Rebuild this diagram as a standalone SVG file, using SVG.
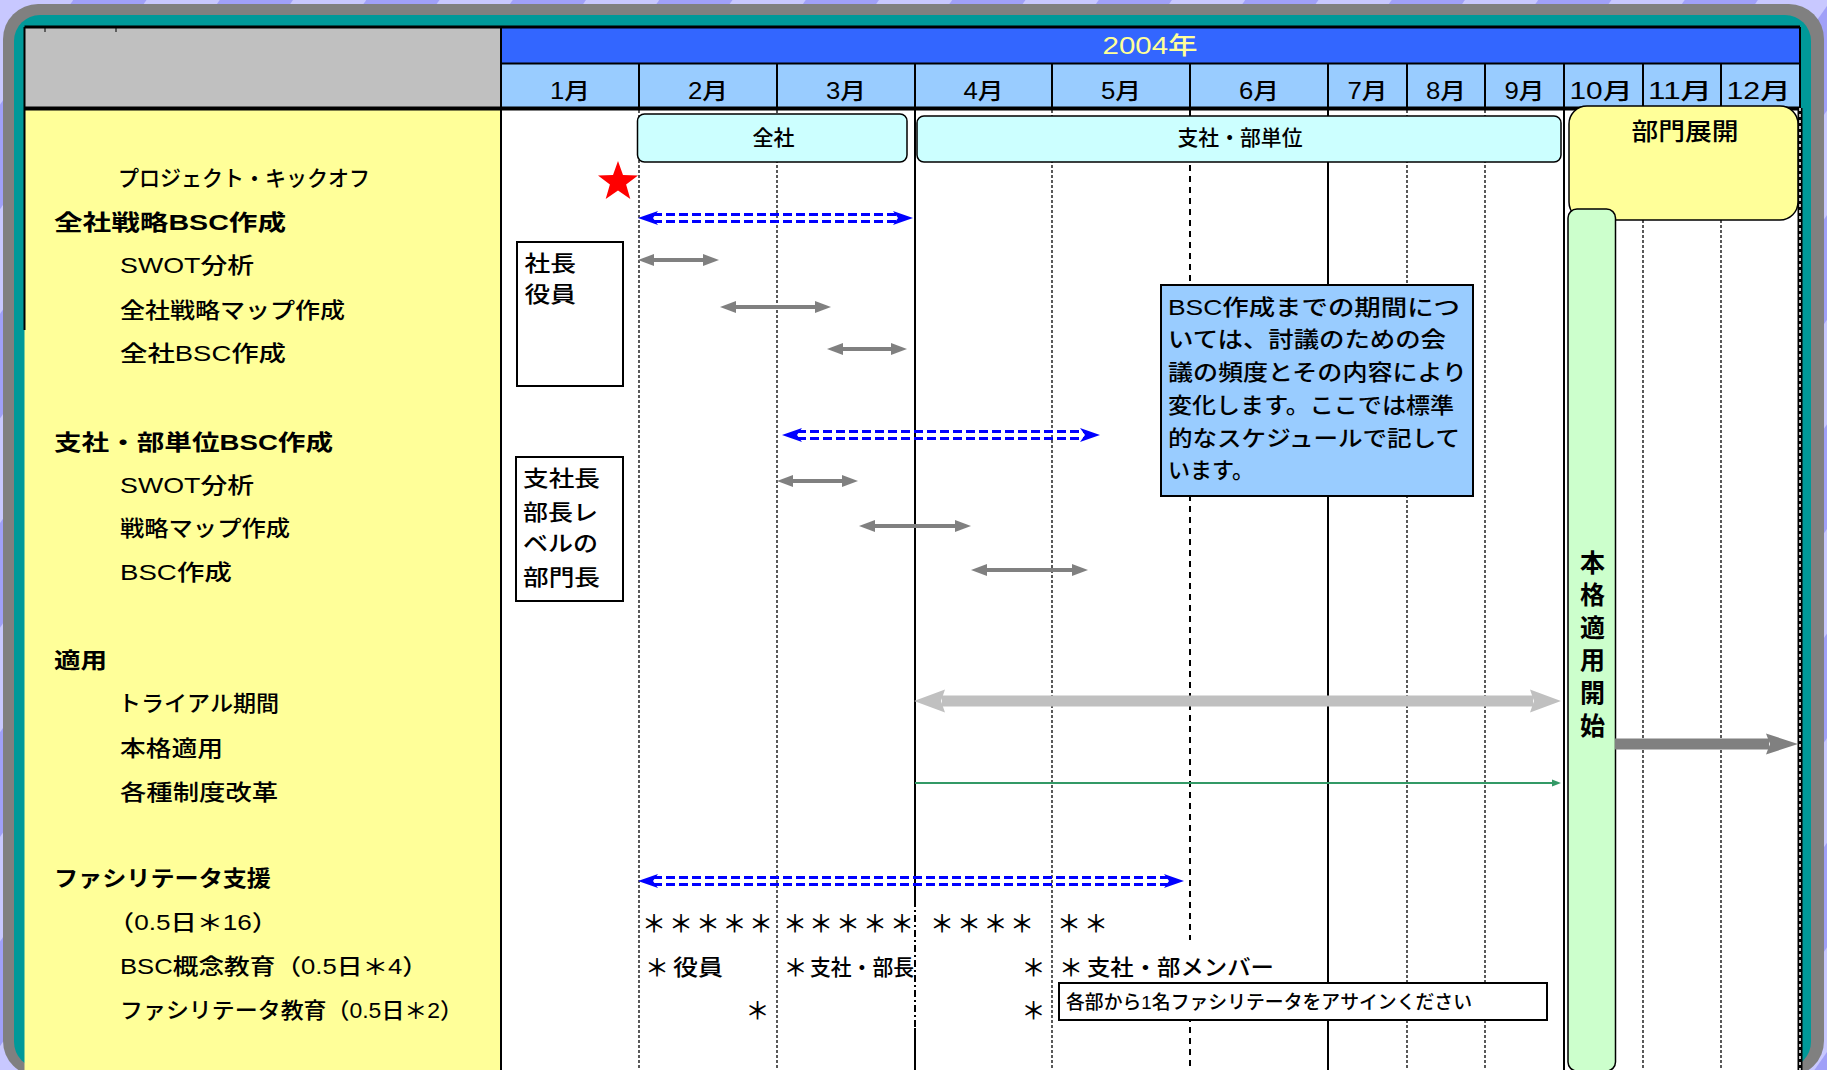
<svg xmlns="http://www.w3.org/2000/svg" width="1827" height="1070" viewBox="0 0 1827 1070">
<defs>
<style>
.t{font-family:"Liberation Sans","Noto Sans CJK JP",sans-serif;font-size:22px;font-weight:500;fill:#000}
.b{font-weight:bold}
.mon{font-size:23px;text-anchor:middle}
.ast{font-family:"Noto Sans CJK JP",sans-serif;font-size:24px;font-weight:500;text-anchor:middle;fill:#000}
.dl{stroke:#000;stroke-width:1.3;stroke-dasharray:3 2;fill:none}
.dl2{stroke:#000;stroke-width:2;stroke-dasharray:6 5;fill:none}
.sl{stroke:#000;stroke-width:2;fill:none}
.bar{fill:#ccffff;stroke:#000;stroke-width:1.5}
.box{fill:#fff;stroke:#000;stroke-width:2}
.bdash{stroke:#0000ff;stroke-width:3;stroke-dasharray:9 4;fill:none}
.mk{stroke:none;fill:none}
.ga{stroke:#808080;stroke-width:4;fill:none}
</style>
<pattern id="bgp" patternUnits="userSpaceOnUse" width="120" height="120" patternTransform="rotate(35)">
<rect width="120" height="120" fill="#a0a0f8"/><rect width="60" height="120" fill="#c8c8ff"/>
</pattern>
<marker id="mBlue" markerUnits="userSpaceOnUse" orient="auto-start-reverse" refX="0" refY="0" markerWidth="24" markerHeight="16" overflow="visible"><path d="M0,-7 L20,0 L0,7 L5,0 Z" fill="#0000ff"/></marker>
<marker id="mGray" markerUnits="userSpaceOnUse" orient="auto-start-reverse" refX="0" refY="0" markerWidth="16" markerHeight="14" overflow="visible"><path d="M-1,-6 L15,0 L-1,6 Z" fill="#808080"/></marker>
<marker id="mBig" markerUnits="userSpaceOnUse" orient="auto-start-reverse" refX="0" refY="0" markerWidth="32" markerHeight="24" overflow="visible"><path d="M-3,-11.5 L28,0 L-3,11.5 L1,0 Z" fill="#c0c0c0"/></marker>
<marker id="mDark" markerUnits="userSpaceOnUse" orient="auto" refX="0" refY="0" markerWidth="32" markerHeight="24" overflow="visible"><path d="M-3,-10.5 L29,0 L-3,10.5 L1,0 Z" fill="#808080"/></marker>
<marker id="mGreen" markerUnits="userSpaceOnUse" orient="auto" refX="0" refY="0" markerWidth="10" markerHeight="8" overflow="visible"><path d="M0,-3.5 L9,0 L0,3.5 Z" fill="#339966"/></marker>
</defs>

<g id="background">
<rect width="1827" height="1070" fill="url(#bgp)"/>
<rect x="3" y="4" width="1821" height="1072" rx="35" fill="#808080"/>
<rect x="14" y="15" width="1797" height="1053" rx="26" fill="#009999"/>
</g>

<g id="table">
<rect x="24.5" y="27" width="476.5" height="81.5" fill="#c0c0c0"/>
<rect x="501" y="27" width="1299" height="36.5" fill="#3366ff"/>
<rect x="501" y="63.5" width="1299" height="45" fill="#99ccff"/>
<rect x="24.5" y="110" width="476.5" height="960" fill="#ffff99"/>
<rect x="501" y="110" width="1299" height="960" fill="#fff"/>
<line x1="24.5" y1="27" x2="1800" y2="27" stroke="#000" stroke-width="3"/>
<line x1="501" y1="63.5" x2="1800" y2="63.5" stroke="#000" stroke-width="2"/>
<line x1="24.5" y1="27" x2="24.5" y2="330" stroke="#000" stroke-width="2"/>
<line x1="45" y1="27" x2="45" y2="32" stroke="#000" stroke-width="1"/>
<line x1="116" y1="27" x2="116" y2="32" stroke="#000" stroke-width="1"/>
<g class="sl">
<path d="M639,63.5V108.5 M777,63.5V108.5 M915,63.5V108.5 M1052,63.5V108.5 M1190,63.5V108.5 M1328,63.5V108.5 M1407,63.5V108.5 M1485,63.5V108.5 M1564,63.5V108.5 M1643,63.5V108.5 M1721,63.5V108.5 M1800,27V108.5"/>
<path d="M501,27V1070"/>
</g>
<text class="t" x="1150" y="54" text-anchor="middle" style="fill:#ffff99;font-size:24px" textLength="95" lengthAdjust="spacingAndGlyphs">2004年</text>
<g class="t mon">
<text x="570" y="99" textLength="40" lengthAdjust="spacingAndGlyphs">1月</text>
<text x="708" y="99" textLength="40" lengthAdjust="spacingAndGlyphs">2月</text>
<text x="846" y="99" textLength="40" lengthAdjust="spacingAndGlyphs">3月</text>
<text x="983.5" y="99" textLength="40" lengthAdjust="spacingAndGlyphs">4月</text>
<text x="1121" y="99" textLength="40" lengthAdjust="spacingAndGlyphs">5月</text>
<text x="1259" y="99" textLength="40" lengthAdjust="spacingAndGlyphs">6月</text>
<text x="1367.5" y="99" textLength="40" lengthAdjust="spacingAndGlyphs">7月</text>
<text x="1446" y="99" textLength="40" lengthAdjust="spacingAndGlyphs">8月</text>
<text x="1524.5" y="99" textLength="40" lengthAdjust="spacingAndGlyphs">9月</text>
<text x="1601" y="99" textLength="63" lengthAdjust="spacingAndGlyphs">10月</text>
<text x="1680" y="99" textLength="64" lengthAdjust="spacingAndGlyphs">11月</text>
<text x="1758.5" y="99" textLength="64" lengthAdjust="spacingAndGlyphs">12月</text>
</g>
<line x1="24.5" y1="108.5" x2="1800" y2="108.5" stroke="#000" stroke-width="4"/>
</g>

<g id="gridlines">
<path class="dl" d="M639,110V1070 M777,110V1070 M1052,110V1070 M1407,110V1070 M1485,110V1070 M1643,110V1070 M1721,110V1070"/>
<path class="dl2" d="M1190,110V940 M1190,983V1070"/>
<path class="sl" d="M915,110V900 M915,1028V1070 M1328,110V1070 M1564,110V1070"/>
<path d="M915,900V1028" stroke="#000" stroke-width="2" stroke-dasharray="7 3 2 3" fill="none"/>
<line x1="1800" y1="108" x2="1800" y2="1070" stroke="#000" stroke-width="5"/>
<line x1="1800" y1="108" x2="1800" y2="1070" stroke="#fff" stroke-width="1.5" stroke-dasharray="3 3"/>
</g>

<g id="labels">
<text class="t" x="118" y="186" textLength="252" lengthAdjust="spacingAndGlyphs">プロジェクト・キックオフ</text>
<text class="t b" x="54" y="230" textLength="232" lengthAdjust="spacingAndGlyphs">全社戦略BSC作成</text>
<text class="t" x="120" y="273" textLength="134" lengthAdjust="spacingAndGlyphs">SWOT分析</text>
<text class="t" x="120" y="318" textLength="225" lengthAdjust="spacingAndGlyphs">全社戦略マップ作成</text>
<text class="t" x="120" y="361" textLength="166" lengthAdjust="spacingAndGlyphs">全社BSC作成</text>
<text class="t b" x="54" y="450" textLength="279" lengthAdjust="spacingAndGlyphs">支社・部単位BSC作成</text>
<text class="t" x="120" y="493" textLength="134" lengthAdjust="spacingAndGlyphs">SWOT分析</text>
<text class="t" x="120" y="536" textLength="170" lengthAdjust="spacingAndGlyphs">戦略マップ作成</text>
<text class="t" x="120" y="580" textLength="112" lengthAdjust="spacingAndGlyphs">BSC作成</text>
<text class="t b" x="54" y="668" textLength="53" lengthAdjust="spacingAndGlyphs">適用</text>
<text class="t" x="118" y="711" textLength="161" lengthAdjust="spacingAndGlyphs">トライアル期間</text>
<text class="t" x="120" y="756" textLength="103" lengthAdjust="spacingAndGlyphs">本格適用</text>
<text class="t" x="120" y="800" textLength="158" lengthAdjust="spacingAndGlyphs">各種制度改革</text>
<text class="t b" x="54" y="886" textLength="217" lengthAdjust="spacingAndGlyphs">ファシリテータ支援</text>
<text class="t" x="108" y="930" textLength="170" lengthAdjust="spacingAndGlyphs">（0.5日＊16）</text>
<text class="t" x="120" y="974" textLength="308" lengthAdjust="spacingAndGlyphs">BSC概念教育（0.5日＊4）</text>
<text class="t" x="120" y="1018" textLength="343" lengthAdjust="spacingAndGlyphs">ファシリテータ教育（0.5日＊2）</text>
</g>

<g id="node-zensha">
<rect class="bar" x="637.5" y="114" width="269.5" height="48" rx="7"/>
<text class="t" x="773.5" y="145" text-anchor="middle" style="font-size:21px">全社</text>
</g>
<g id="node-shisha">
<rect class="bar" x="917" y="116" width="644" height="46" rx="7"/>
<text class="t" x="1240" y="145" text-anchor="middle" style="font-size:21px" textLength="125" lengthAdjust="spacingAndGlyphs">支社・部単位</text>
</g>
<g id="node-bumon">
<rect x="1569" y="106" width="229" height="114" rx="18" fill="#ffff99" stroke="#000" stroke-width="1.5"/>
<text class="t" x="1685" y="140" text-anchor="middle" style="font-size:24px" textLength="107" lengthAdjust="spacingAndGlyphs">部門展開</text>
</g>
<g id="node-honkaku">
<rect x="1568" y="209" width="47.5" height="862" rx="9" fill="#ccffcc" stroke="#000" stroke-width="1.5"/>
<text class="t b" style="font-size:25px" text-anchor="middle" x="1592.6" y="572">本</text>
<text class="t b" style="font-size:25px" text-anchor="middle" x="1592.6" y="604">格</text>
<text class="t b" style="font-size:25px" text-anchor="middle" x="1592.6" y="637">適</text>
<text class="t b" style="font-size:25px" text-anchor="middle" x="1592.6" y="669">用</text>
<text class="t b" style="font-size:25px" text-anchor="middle" x="1592.6" y="702">開</text>
<text class="t b" style="font-size:25px" text-anchor="middle" x="1592.6" y="735">始</text>
</g>
<g id="node-kickoff">
<polygon points="618,161 623,175.1 638,175.5 626.1,184.6 630.3,199 618,190.5 605.7,199 609.9,184.6 598,175.5 613,175.1" fill="#ff0000"/>
</g>
<g id="node-shachou">
<rect class="box" x="517" y="242" width="106" height="144"/>
<text class="t" x="524.5" y="271" textLength="51.5" lengthAdjust="spacingAndGlyphs">社長</text>
<text class="t" x="524.5" y="302" textLength="51.5" lengthAdjust="spacingAndGlyphs">役員</text>
</g>
<g id="node-shishachou">
<rect class="box" x="516" y="457" width="107" height="144"/>
<text class="t" x="523" y="486" textLength="77" lengthAdjust="spacingAndGlyphs">支社長</text>
<text class="t" x="523" y="520" textLength="75" lengthAdjust="spacingAndGlyphs">部長レ</text>
<text class="t" x="523" y="551" textLength="75" lengthAdjust="spacingAndGlyphs">ベルの</text>
<text class="t" x="523" y="585" textLength="77" lengthAdjust="spacingAndGlyphs">部門長</text>
</g>
<g id="node-note">
<rect x="1161" y="285" width="312" height="211" fill="#99ccff" stroke="#000" stroke-width="2"/>
<text class="t" x="1168" y="315" textLength="292" lengthAdjust="spacingAndGlyphs">BSC作成までの期間につ</text>
<text class="t" x="1168" y="347" textLength="278" lengthAdjust="spacingAndGlyphs">いては、討議のための会</text>
<text class="t" x="1168" y="380" textLength="299" lengthAdjust="spacingAndGlyphs">議の頻度とその内容により</text>
<text class="t" x="1168" y="413" textLength="286" lengthAdjust="spacingAndGlyphs">変化します。ここでは標準</text>
<text class="t" x="1168" y="446" textLength="292" lengthAdjust="spacingAndGlyphs">的なスケジュールで記して</text>
<text class="t" x="1168" y="478" textLength="86" lengthAdjust="spacingAndGlyphs">います。</text>
</g>
<g id="node-assign">
<rect class="box" x="1059" y="983" width="488" height="37"/>
<text class="t" x="1066" y="1009" style="font-size:19px" textLength="406" lengthAdjust="spacingAndGlyphs">各部から1名ファシリテータをアサインください</text>
</g>
<g id="node-facilitation">
<text class="ast" x="654 681 708 734.5 761" y="932">＊＊＊＊＊</text>
<text class="ast" x="795 821 848 875 902" y="932">＊＊＊＊＊</text>
<text class="ast" x="942 969 995.5 1022" y="932">＊＊＊＊</text>
<text class="ast" x="1069 1096" y="932">＊＊</text>
<text class="ast" x="657" y="976">＊</text>
<text class="t" x="673" y="975" textLength="50" lengthAdjust="spacingAndGlyphs">役員</text>
<text class="ast" x="795.5" y="976">＊</text>
<text class="t" x="810" y="975" textLength="104" lengthAdjust="spacingAndGlyphs">支社・部長</text>
<text class="ast" x="1033.5" y="976">＊</text>
<text class="ast" x="1071" y="976">＊</text>
<text class="t" x="1087" y="975" textLength="187" lengthAdjust="spacingAndGlyphs">支社・部メンバー</text>
<text class="ast" x="757.5" y="1019">＊</text>
<text class="ast" x="1033.5" y="1019">＊</text>
</g>

<g id="connectors">
<path class="bdash" d="M653,214.5H898 M653,221.5H898"/>
<path class="mk" d="M658,218H893" marker-start="url(#mBlue)" marker-end="url(#mBlue)"/>
<path class="bdash" d="M797,431.5H1085 M797,438.5H1085"/>
<path class="mk" d="M802,435H1080" marker-start="url(#mBlue)" marker-end="url(#mBlue)"/>
<path class="bdash" d="M653,877.5H1169 M653,884.5H1169"/>
<path class="mk" d="M658,881H1164" marker-start="url(#mBlue)" marker-end="url(#mBlue)"/>
<path class="ga" d="M653,260H704" marker-start="url(#mGray)" marker-end="url(#mGray)"/>
<path class="ga" d="M735,307H816" marker-start="url(#mGray)" marker-end="url(#mGray)"/>
<path class="ga" d="M842,349H892" marker-start="url(#mGray)" marker-end="url(#mGray)"/>
<path class="ga" d="M792,481H843" marker-start="url(#mGray)" marker-end="url(#mGray)"/>
<path class="ga" d="M874,526H956" marker-start="url(#mGray)" marker-end="url(#mGray)"/>
<path class="ga" d="M986,570H1073" marker-start="url(#mGray)" marker-end="url(#mGray)"/>
<path d="M942,701H1533" stroke="#c0c0c0" stroke-width="11" fill="none" marker-start="url(#mBig)" marker-end="url(#mBig)"/>
<path d="M915,783H1552" stroke="#339966" stroke-width="2" fill="none" marker-end="url(#mGreen)"/>
<path d="M1615,744H1769" stroke="#808080" stroke-width="11" fill="none" marker-end="url(#mDark)"/>
</g>
</svg>
